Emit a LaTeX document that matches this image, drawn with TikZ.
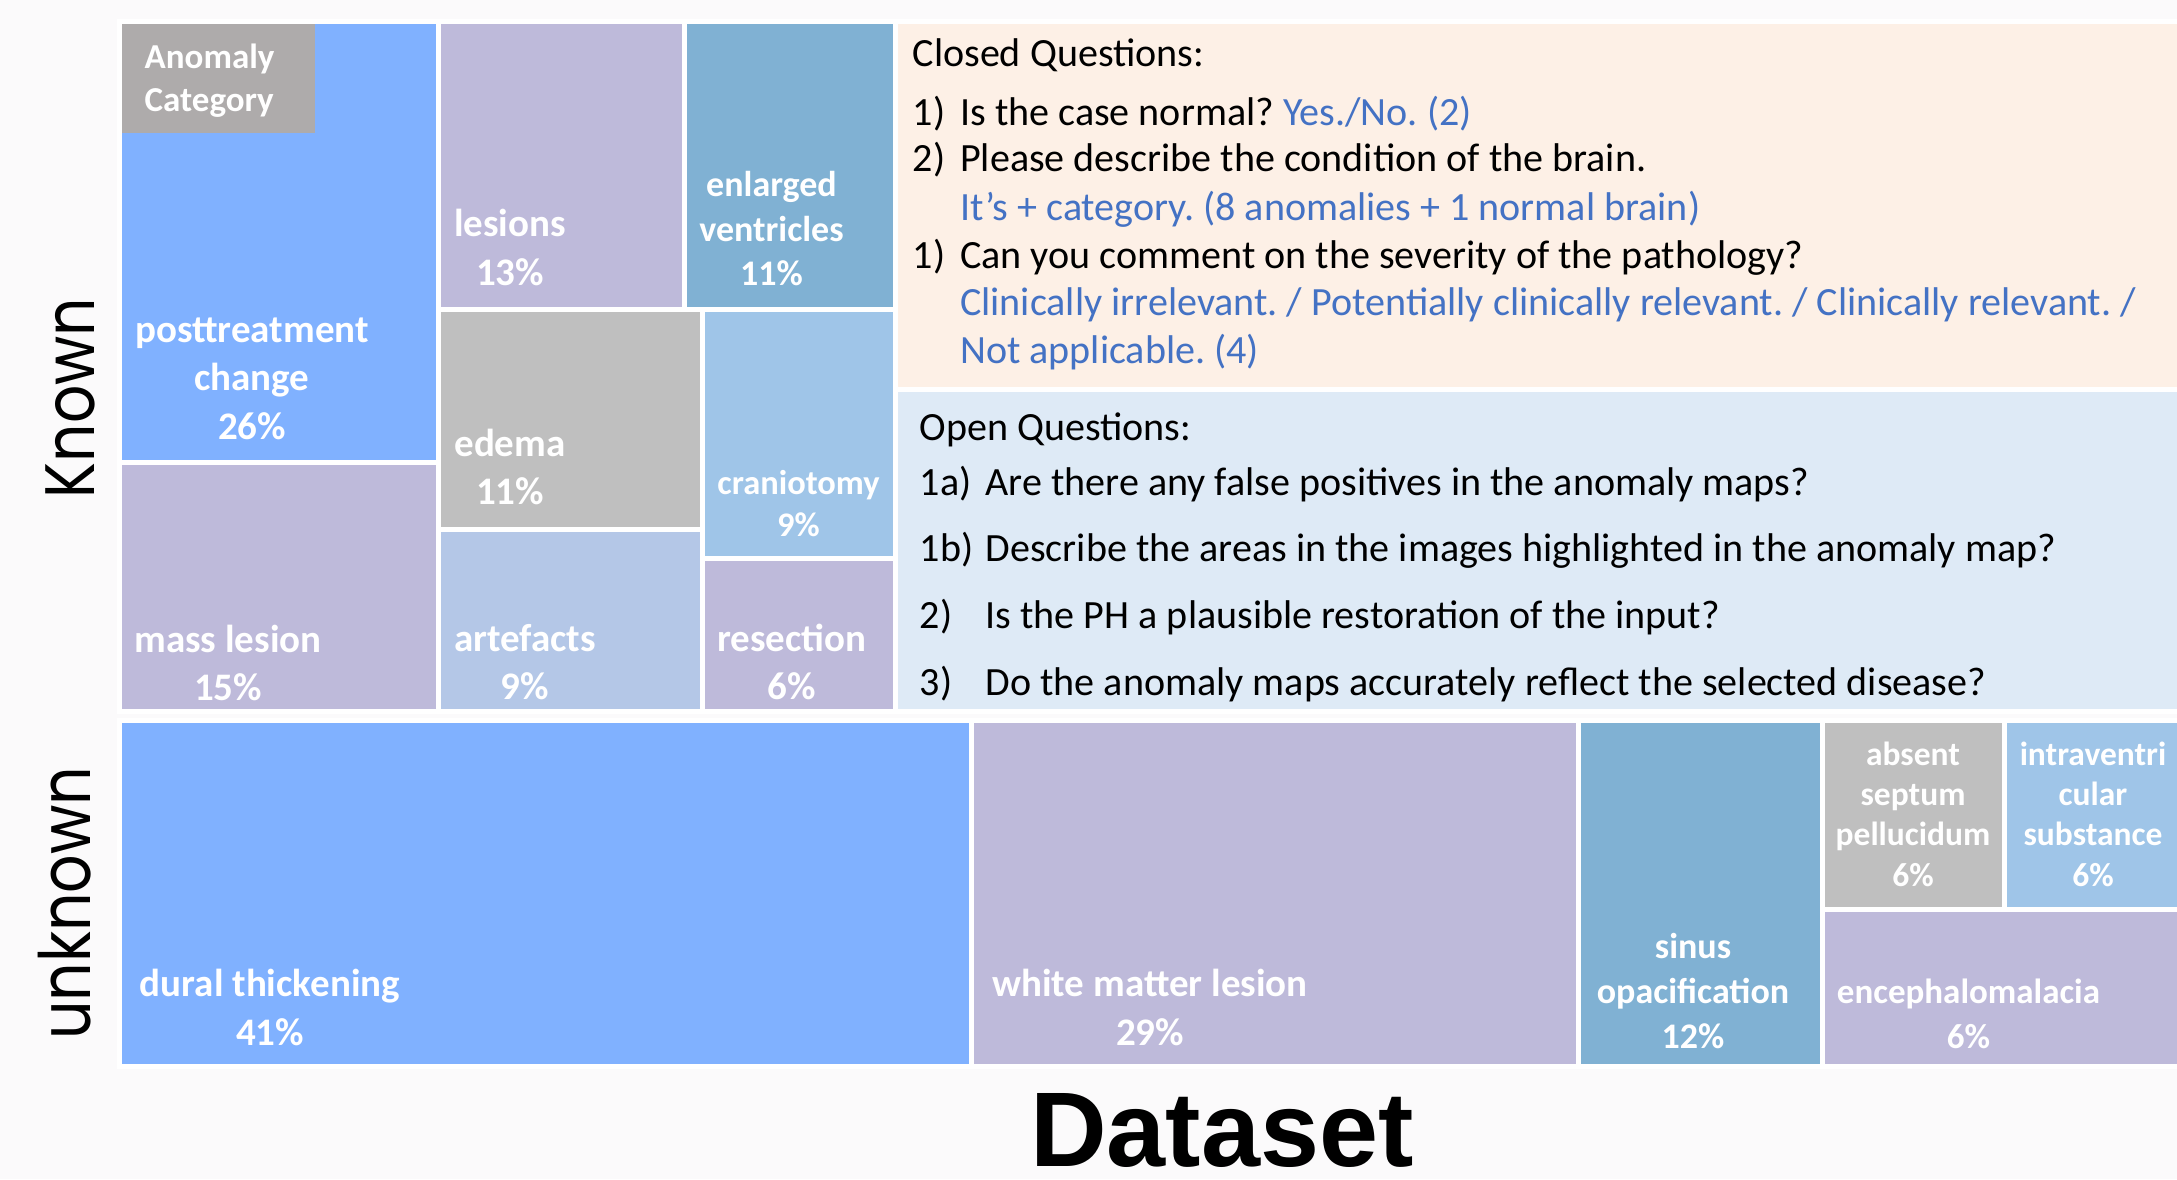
\documentclass[tikz,border=0pt]{standalone}
\usepackage{fontspec}
\setmainfont{Carlito}
\newfontfamily\axisfont{Poppins}
\newfontfamily\titlefont{Liberation Sans}
\frenchspacing

\definecolor{pageBg}{HTML}{FBFAFB}
\definecolor{skyBlue}{HTML}{80B1FF}
\definecolor{lavender}{HTML}{BEBADA}
\definecolor{steelBlue}{HTML}{80B1D3}
\definecolor{midGray}{HTML}{BFBFBF}
\definecolor{tagGray}{HTML}{AEABAB}
\definecolor{paleBlue}{HTML}{9FC5E8}
\definecolor{mistBlue}{HTML}{B4C7E7}
\definecolor{closedBg}{HTML}{FDF0E6}
\definecolor{openBg}{HTML}{DEEAF6}
\definecolor{answer}{HTML}{4472C4}

\begin{document}
\begin{tikzpicture}[x=0.1mm, y=-0.1mm,
  cell/.style={draw=white, line width=0.5mm},
  lbl/.style={text=white, align=flush center, text width=40mm, anchor=base, inner sep=0pt,
    font=\bfseries\fontsize{11.1}{13.9}\selectfont},
  qtext/.style={anchor=base west, inner sep=0pt, font=\fontsize{11.4}{13.7}\selectfont},
  ans/.style={qtext, text=answer}]
  \useasboundingbox (0,0) rectangle (2177,1179);
  \fill[pageBg] (0,0) rectangle (2177,1179);

  % known anomalies
  \filldraw[cell, fill=skyBlue]   (119.2,21.8) rectangle (438.6,462.8);
  \filldraw[cell, fill=lavender]  (119.2,462.8) rectangle (438.6,711.5);
  \filldraw[cell, fill=lavender]  (438.6,21.8) rectangle (684,309);
  \filldraw[cell, fill=steelBlue] (684,21.8) rectangle (895.2,309);
  \filldraw[cell, fill=midGray]   (438.6,309) rectangle (702.7,529.4);
  \filldraw[cell, fill=mistBlue]  (438.6,529.4) rectangle (702.7,711.5);
  \filldraw[cell, fill=paleBlue]  (702.7,309) rectangle (895.2,558.8);
  \filldraw[cell, fill=lavender]  (702.7,558.8) rectangle (895.2,711.5);
  \fill[tagGray] (121.7,24.3) rectangle (315,133);

  \node[lbl, align=flush left, anchor=base west, font=\bfseries\fontsize{9.96}{12.15}\selectfont]
    (anomalyTag) at (144,68.9) {Anomaly\\Category};
  \node[lbl] (postLbl) at (252,342) {posttreatment\\change\\26\%};
  \node[lbl] (massLbl) at (228,652) {mass lesion\\15\%};
  \node[lbl] (lesionsLbl) at (510,236.5) {lesions\\13\%};
  \node[lbl, font=\bfseries\fontsize{10.24}{12.66}\selectfont]
    (ventLbl) at (771.5,196.5) {enlarged\\ventricles\\11\%};
  \node[lbl] (edemaLbl) at (510,456) {edema\\11\%};
  \node[lbl, font=\bfseries\fontsize{9.8}{12}\selectfont]
    (cranioLbl) at (798.5,494) {craniotomy\\9\%};
  \node[lbl] (artLbl) at (525,651) {artefacts\\9\%};
  \node[lbl] (resLbl) at (792,651) {resection\\6\%};

  % question panels
  \filldraw[cell, fill=closedBg] (895.2,21.8) rectangle (2190,389.2);
  \filldraw[cell, fill=openBg]   (895.2,389.2) rectangle (2190,711.5);

  \node[qtext] (closedTitle) at (912,66.7) {Closed Questions:};
  \node[qtext] (cq1n) at (912,125) {1)};
  \node[qtext] (cq1) at (959.5,125) {Is the case normal? \textcolor{answer}{Yes./No. (2)}};
  \node[qtext] (cq2n) at (912,171.7) {2)};
  \node[qtext] (cq2) at (959.5,171.7) {Please describe the condition of the brain.};
  \node[ans] (ca2) at (959.5,220) {It’s + category. (8 anomalies + 1 normal brain)};
  \node[qtext] (cq3n) at (912,268) {1)};
  \node[qtext] (cq3) at (959.5,268) {Can you comment on the severity of the pathology?};
  \node[ans] (ca3a) at (959.5,315)
    {Clinically irrelevant. / Potentially clinically relevant. / Clinically relevant. /};
  \node[ans] (ca3b) at (959.5,363.3) {Not applicable. (4)};

  \node[qtext] (openTitle) at (919,440) {Open Questions:};
  \node[qtext] (oq1an) at (919,495) {1a)};
  \node[qtext] (oq1a) at (985,495) {Are there any false positives in the anomaly maps?};
  \node[qtext] (oq1bn) at (919,561.7) {1b)};
  \node[qtext] (oq1b) at (985,561.7) {Describe the areas in the images highlighted in the anomaly map?};
  \node[qtext] (oq2n) at (919,628) {2)};
  \node[qtext] (oq2) at (985,628) {Is the PH a plausible restoration of the input?};
  \node[qtext] (oq3n) at (919,695) {3)};
  \node[qtext] (oq3) at (985,695) {Do the anomaly maps accurately reflect the selected disease?};

  % unknown anomalies
  \filldraw[cell, fill=skyBlue]   (119.2,720.8) rectangle (971.3,1066.8);
  \filldraw[cell, fill=lavender]  (971.3,720.8) rectangle (1578.8,1066.8);
  \filldraw[cell, fill=steelBlue] (1578.8,720.8) rectangle (1822.4,1066.8);
  \filldraw[cell, fill=midGray]   (1822.4,720.8) rectangle (2004.4,909.8);
  \filldraw[cell, fill=paleBlue]  (2004.4,720.8) rectangle (2190,909.8);
  \filldraw[cell, fill=lavender]  (1822.4,909.8) rectangle (2190,1066.8);

  \node[lbl] (duralLbl) at (270,996.7) {dural thickening\\41\%};
  \node[lbl] (wmLbl) at (1150,996.7) {white matter lesion\\29\%};
  \node[lbl, font=\bfseries\fontsize{10.24}{12.8}\selectfont]
    (sinusLbl) at (1693,958.3) {sinus\\opacification\\12\%};
  \node[lbl, font=\bfseries\fontsize{9.53}{11.5}\selectfont]
    (septumLbl) at (1913,765) {absent\\septum\\pellucidum\\6\%};
  \node[lbl, font=\bfseries\fontsize{9.53}{11.5}\selectfont]
    (ivsLbl) at (2093,765) {intraventri\\cular\\substance\\6\%};
  \node[lbl, font=\bfseries\fontsize{9.96}{12.8}\selectfont]
    (encLbl) at (1968.5,1003) {encephalomalacia\\6\%};

  % axis words
  \node[rotate=90, inner sep=0pt] (knownLbl) at (70.3,398)
    {\resizebox{20mm}{4.88mm}{\axisfont Known}};
  \node[rotate=90, inner sep=0pt] (unknownLbl) at (64.8,903.3)
    {\resizebox{27.3mm}{5.24mm}{\axisfont unknown}};
  \node[anchor=base, inner sep=0pt, font=\titlefont\bfseries\fontsize{30.2}{36}\selectfont]
    (datasetLbl) at (1222,1166.7) {Dataset};
\end{tikzpicture}
\end{document}
